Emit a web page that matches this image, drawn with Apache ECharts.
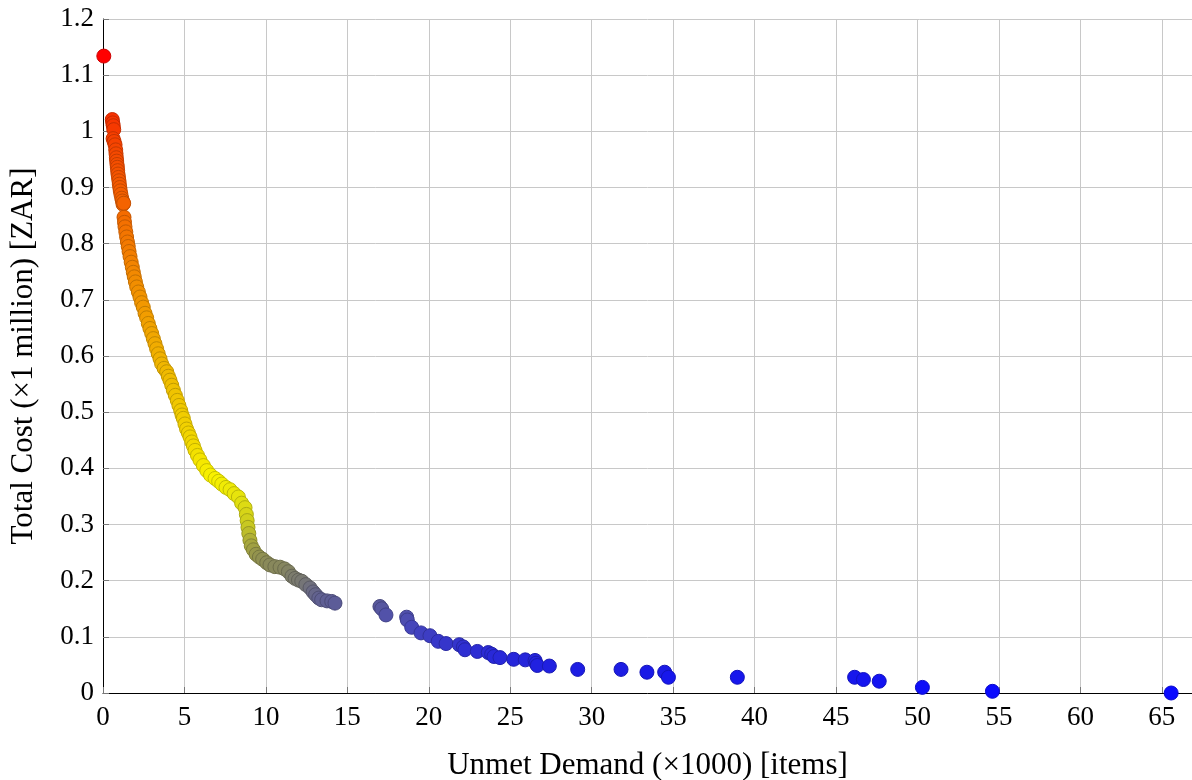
<!DOCTYPE html>
<html>
<head>
<meta charset="utf-8">
<script src="https://cdn.jsdelivr.net/npm/echarts@6/dist/echarts.min.js"></script>
<style>
  html, body { margin: 0; padding: 0; background: #fff; }
  #main { width: 1192px; height: 780px; }
</style>
</head>
<body>
<div id="main"></div>
<script>
// Pareto front: unmet demand (x1000 items) vs total cost (x1 million ZAR)

const unmetDemand = [
    0.05,
    0.57, 0.60, 0.63, 0.66, 0.62, 0.68, 0.74, 0.78, 0.80, 0.82, 0.84, 0.86, 0.88, 0.90,
    0.92, 0.95, 0.98, 1.00, 1.03, 1.06, 1.10, 1.15, 1.19, 1.23, 1.27,
    1.29, 1.32, 1.35, 1.40, 1.45, 1.50, 1.55, 1.60, 1.66, 1.73, 1.80, 1.86, 1.92, 1.99,
    2.07, 2.17, 2.27, 2.37, 2.47, 2.58, 2.68, 2.78, 2.88, 2.99, 3.09, 3.19, 3.29, 3.39,
    3.50, 3.60, 3.75, 3.91, 4.01, 4.11, 4.22, 4.32, 4.44, 4.56, 4.66, 4.77, 4.85, 4.93,
    5.03, 5.13, 5.24, 5.34, 5.45, 5.55, 5.65, 5.80, 5.95, 6.16, 6.37, 6.60, 6.88, 7.10,
    7.29, 7.55, 7.80, 8.05, 8.31, 8.51, 8.72, 8.80, 8.85, 8.90, 8.95, 9.02, 9.10, 9.23,
    9.40, 9.60, 9.80, 10.05, 10.25, 10.55, 10.87, 11.15, 11.38, 11.60, 11.79, 12.00,
    12.20, 12.45, 12.71, 12.90, 13.05, 13.25, 13.42, 13.75, 14.04, 14.24,
    17.00, 17.11, 17.37, 18.64, 18.68, 18.95, 19.52, 20.07, 20.58, 21.06, 21.87, 22.12,
    22.22, 22.98, 23.65, 23.86, 24.00, 24.37, 25.21, 25.92, 26.52, 26.58, 26.66, 27.40,
    29.14, 31.80, 33.39, 34.48, 34.71, 38.94, 46.14, 46.68, 47.65, 50.30, 54.60, 65.57
];

const totalCost = [
    1.134,
    1.021, 1.015, 1.010, 1.003, 0.987, 0.982, 0.976, 0.967, 0.960, 0.953, 0.947, 0.941, 0.936, 0.930,
    0.924, 0.918, 0.912, 0.906, 0.900, 0.894, 0.888, 0.881, 0.876, 0.870, 0.872,
    0.847, 0.838, 0.830, 0.821, 0.812, 0.803, 0.795, 0.786, 0.777, 0.767, 0.758, 0.749, 0.741, 0.732,
    0.723, 0.714, 0.705, 0.695, 0.687, 0.676, 0.668, 0.658, 0.649, 0.640, 0.631, 0.622, 0.613, 0.604,
    0.595, 0.586, 0.578, 0.572, 0.564, 0.557, 0.548, 0.539, 0.530, 0.521, 0.512, 0.503, 0.495, 0.489,
    0.479, 0.470, 0.463, 0.456, 0.447, 0.440, 0.432, 0.423, 0.415, 0.405, 0.396, 0.388, 0.382, 0.377,
    0.372, 0.366, 0.362, 0.355, 0.349, 0.338, 0.330, 0.318, 0.307, 0.295, 0.284, 0.272, 0.262, 0.255,
    0.247, 0.242, 0.238, 0.232, 0.228, 0.225, 0.224, 0.221, 0.216, 0.208, 0.204, 0.201,
    0.199, 0.193, 0.187, 0.180, 0.175, 0.169, 0.166, 0.164, 0.163, 0.160,
    0.154, 0.150, 0.139, 0.135, 0.130, 0.117, 0.107, 0.102, 0.092, 0.088, 0.086, 0.082,
    0.077, 0.074, 0.072, 0.069, 0.065, 0.063, 0.060, 0.059, 0.058, 0.053, 0.049, 0.048,
    0.042, 0.042, 0.037, 0.037, 0.028, 0.028, 0.028, 0.024, 0.021, 0.010, 0.003, 0.0
];

const xTicks = [0, 5, 10, 15, 20, 25, 30, 35, 40, 45, 50, 55, 60, 65];
const yTicks = [0, 0.1, 0.2, 0.3, 0.4, 0.5, 0.6, 0.7, 0.8, 0.9, 1, 1.1, 1.2];

// colour ramp red -> yellow -> grey -> blue, keyed on cost
const rampStops = [0, 0.04, 0.08, 0.12, 0.16, 0.20, 0.24, 0.30, 0.38, 0.45, 0.55, 0.70, 0.85, 1.0, 1.134];
const rampColors = [
    [10, 10, 255], [28, 28, 228], [48, 48, 208], [72, 72, 184], [92, 92, 152], [122, 122, 112],
    [145, 145, 80], [205, 205, 30], [248, 242, 0], [242, 214, 0], [240, 190, 0], [242, 148, 0],
    [244, 106, 0], [246, 58, 0], [255, 0, 0]
];

function rampColor(v, k) {
    let i = 0;
    while (i < rampStops.length - 2 && v > rampStops[i + 1]) i++;
    let t = (v - rampStops[i]) / (rampStops[i + 1] - rampStops[i]);
    t = Math.max(0, Math.min(1, t));
    const a = rampColors[i], b = rampColors[i + 1];
    const c = a.map((ch, j) => Math.round((ch + (b[j] - ch) * t) * k));
    return 'rgb(' + c.join(',') + ')';
}

const points = unmetDemand.map((x, i) => ({
    value: [x, totalCost[i]],
    itemStyle: {
        color: rampColor(totalCost[i], 1),
        borderColor: rampColor(totalCost[i], 0.8)
    }
}));

const serif = '"Liberation Serif", "DejaVu Serif", serif';

let myChart = echarts.init(document.getElementById('main'));

let option = {
    animation: false,
    grid: { left: 103, top: 19, right: 0, bottom: 87, outerBoundsMode: 'none' },
    xAxis: {
        type: 'value',
        min: 0,
        max: 66.85,
        interval: 5,
        name: 'Unmet Demand (×1000) [items]',
        nameLocation: 'middle',
        nameGap: 57,
        nameTextStyle: { fontFamily: serif, fontSize: 31, color: '#000' },
        axisLine: { onZero: false, lineStyle: { color: '#000', width: 1 } },
        axisTick: { inside: true, length: 6, lineStyle: { color: '#777' } },
        axisLabel: {
            fontFamily: serif, fontSize: 27, color: '#000', margin: 11,
            formatter: v => xTicks.includes(v) ? String(v) : ''
        },
        splitLine: { show: true, lineStyle: { color: '#c8c8c8', width: 1 } }
    },
    yAxis: {
        type: 'value',
        min: 0,
        max: 1.2,
        interval: 0.1,
        name: 'Total Cost (×1 million) [ZAR]',
        nameLocation: 'middle',
        nameGap: 64,
        nameTextStyle: { fontFamily: serif, fontSize: 31, color: '#000' },
        axisLine: { show: true, lineStyle: { color: '#000', width: 1 } },
        axisTick: { inside: true, length: 6, lineStyle: { color: '#777' } },
        axisLabel: {
            fontFamily: serif, fontSize: 27, color: '#000', margin: 9,
            formatter: v => {
                const t = yTicks.find(u => Math.abs(u - v) < 1e-6);
                return t === undefined ? '' : String(t);
            }
        },
        splitLine: { show: true, lineStyle: { color: '#c8c8c8', width: 1 } }
    },
    series: [{
        type: 'scatter',
        symbol: 'circle',
        symbolSize: 14,
        itemStyle: { borderWidth: 1, opacity: 1 },
        data: points
    }]
};

myChart.setOption(option);
</script>
</body>
</html>
